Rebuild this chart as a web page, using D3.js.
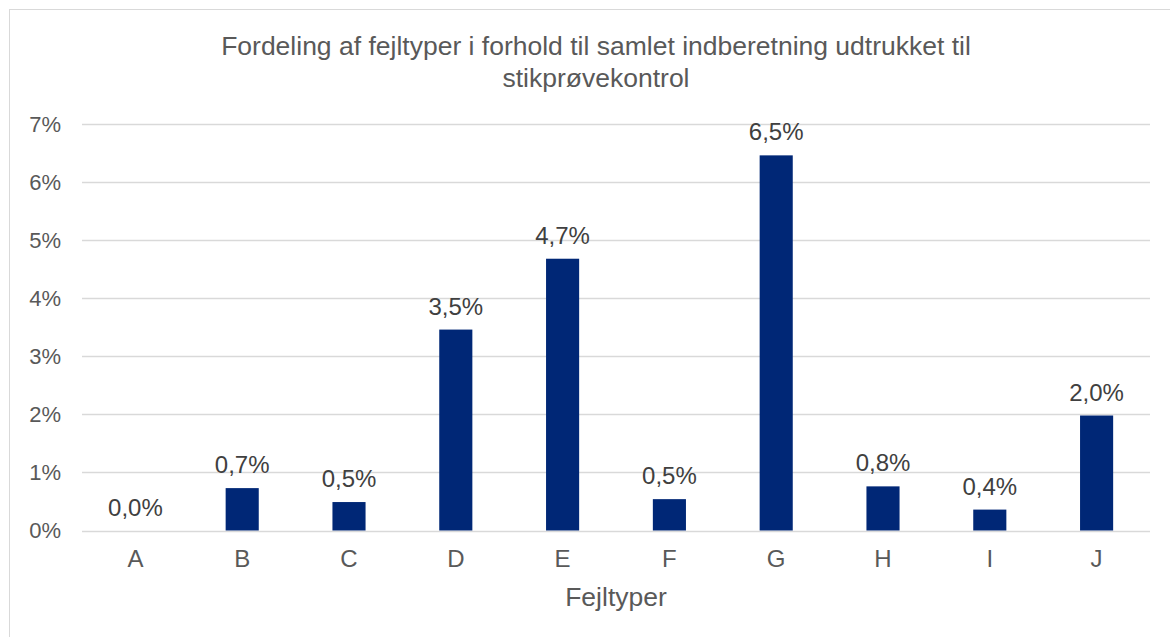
<!DOCTYPE html>
<html>
<head>
<meta charset="utf-8">
<script src="https://cdn.jsdelivr.net/npm/d3@7"></script>
<style>
  html, body { margin: 0; padding: 0; background: #fff; }
  svg { display: block; font-family: "Liberation Sans", Arial, sans-serif; }
</style>
</head>
<body>
<div id="chart"></div>
<script>
// Data
var categories = ['A', 'B', 'C', 'D', 'E', 'F', 'G', 'H', 'I', 'J'];
var values = [0.0, 0.73, 0.49, 3.46, 4.68, 0.54, 6.46, 0.76, 0.36, 1.98];   // percent
var yTicks = [0, 1, 2, 3, 4, 5, 6, 7];
var titleLines = ['Fordeling af fejltyper i forhold til samlet indberetning udtrukket til', 'stikprøvekontrol'];
var xTitle = 'Fejltyper';

var totalWidth = 1170;
var totalHeight = 637;
var margin = { top: 124, right: 20, bottom: 106, left: 82 };
var width = 1150 - margin.left;
var height = 530.5 - margin.top;

var locale = d3.formatLocale({ decimal: ',', thousands: '.', grouping: [3], currency: ['', ' kr.'] });
var fmtLabel = locale.format('.1f');

var svg = d3.select('#chart')
  .append('svg')
  .attr('width', totalWidth)
  .attr('height', totalHeight);

// Outline of the chart area
svg.append('rect')
  .attr('x', 9.5)
  .attr('y', 9.5)
  .attr('width', 1200)
  .attr('height', 700)
  .attr('fill', 'white')
  .attr('stroke', '#d9d9d9')
  .attr('stroke-width', 1);

// Title
svg.append('text')
  .attr('x', 596)
  .attr('y', 55)
  .attr('text-anchor', 'middle')
  .attr('fill', '#595959')
  .style('font-size', '26.5px')
  .selectAll('tspan')
  .data(titleLines)
  .enter()
  .append('tspan')
  .attr('x', 596)
  .attr('dy', function(d, i) { return i === 0 ? 0 : 32; })
  .text(function(d) { return d; });

var main = svg.append('g')
  .attr('transform', 'translate(' + margin.left + ',' + margin.top + ')');

var x = d3.scaleBand()
  .domain(categories)
  .range([0, width])
  .paddingInner(0.69)
  .paddingOuter(0.345);

var y = d3.scaleLinear()
  .domain([0, 7])
  .range([height, 0]);

// Gridlines
main.append('g')
  .selectAll('line')
  .data(yTicks)
  .enter()
  .append('line')
  .attr('x1', 0)
  .attr('x2', width)
  .attr('y1', function(d) { return Math.round(y(d)) + 0.5; })
  .attr('y2', function(d) { return Math.round(y(d)) + 0.5; })
  .attr('stroke', '#d9d9d9')
  .attr('stroke-width', 1.5);

// Y axis labels
var yAxis = main.append('g')
  .attr('transform', 'translate(-21,0)')
  .call(d3.axisLeft(y).tickValues(yTicks).tickSize(0).tickPadding(0)
    .tickFormat(function(d) { return d + '%'; }));
yAxis.select('.domain').remove();
yAxis.selectAll('text')
  .attr('fill', '#595959')
  .style('font-size', '22px')
  .style('font-family', '"Liberation Sans", Arial, sans-serif');

// X axis labels
var xAxis = main.append('g')
  .attr('transform', 'translate(0,' + height + ')')
  .call(d3.axisBottom(x).tickSize(0).tickPadding(19));
xAxis.select('.domain').remove();
xAxis.selectAll('text')
  .attr('fill', '#595959')
  .style('font-size', '24px')
  .style('font-family', '"Liberation Sans", Arial, sans-serif');

// Bars
main.selectAll('.bar')
  .data(values)
  .enter()
  .append('rect')
  .attr('class', 'bar')
  .attr('x', function(d, i) { return x(categories[i]); })
  .attr('y', function(d) { return y(d); })
  .attr('width', x.bandwidth())
  .attr('height', function(d) { return height - y(d); })
  .attr('fill', '#002776');

// Data labels
main.selectAll('.label')
  .data(values)
  .enter()
  .append('text')
  .attr('class', 'label')
  .attr('x', function(d, i) { return x(categories[i]) + x.bandwidth() / 2; })
  .attr('y', function(d) { return y(d) - 15; })
  .attr('text-anchor', 'middle')
  .attr('fill', '#404040')
  .style('font-size', '24px')
  .text(function(d) { return fmtLabel(d) + '%'; });

// X axis title
svg.append('text')
  .attr('x', margin.left + width / 2)
  .attr('y', 606)
  .attr('text-anchor', 'middle')
  .attr('fill', '#595959')
  .style('font-size', '26.5px')
  .text(xTitle);
</script>
</body>
</html>
